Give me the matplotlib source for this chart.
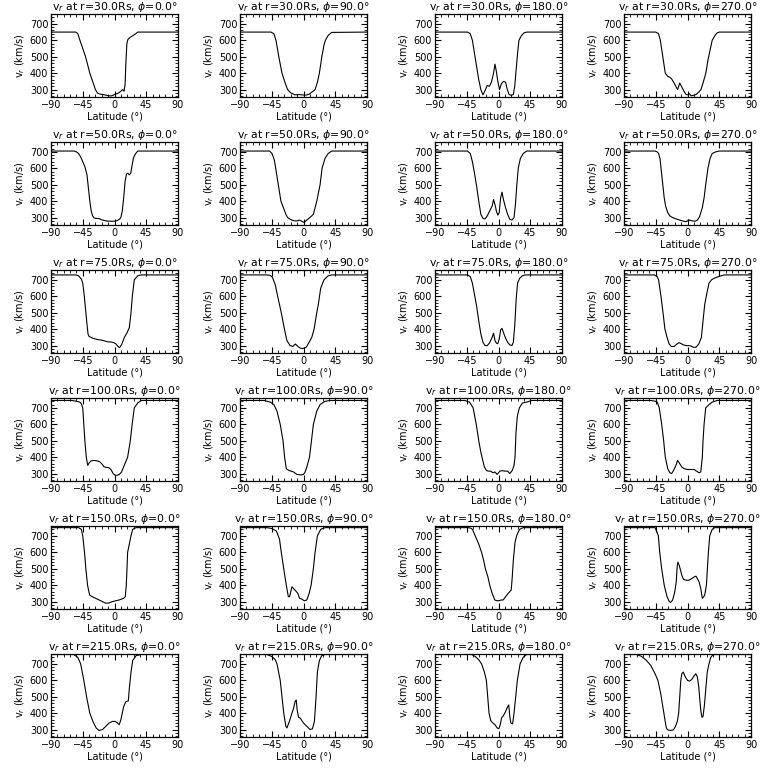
import matplotlib
matplotlib.use("Agg")
import matplotlib.pyplot as plt
from matplotlib.ticker import MultipleLocator

radii = [30.0, 50.0, 75.0, 100.0, 150.0, 215.0]
phis = [0.0, 90.0, 180.0, 270.0]
x_ticks = [-90, -45, 0, 45, 90]
y_ticks = [300, 400, 500, 600, 700]

# ---- r = 30 Rs ----
lat_30_0 = [-90,-55,-52,-49,-45,-41,-38,-35,-31,-27,-24,-20,-16,-12,-8,-4,0,3,6,9,11.5,13.5,15,16,17.5,19,22,26,30,33,90]
v_30_0 = [650,650,640,600,550,500,450,400,350,300,278,272,270,266,262,262,270,275,280,290,300,290,330,450,580,605,618,628,640,650,650]
lat_30_90 = [-90,-46,-42,-39,-35,-30.5,-26,-22.5,-18,-12,-6,-2,3,8,12,16.5,20,22.5,26,29,31,35,40,90]
v_30_90 = [650,650,640,600,500,400,340,300,280,268,270,268,266,272,285,300,350,400,500,570,600,630,648,650]
lat_30_180 = [-90,-44,-40,-37,-34,-31,-28,-25,-22,-19,-16,-13,-10,-7,-5,-3,-1,1.5,4,7,10,12.5,15,18,21,23,25,27,29,32,36,40,90]
v_30_180 = [650,650,640,600,520,440,360,300,268,295,325,320,345,400,455,410,350,300,335,350,345,300,270,265,270,320,420,520,600,625,645,650,650]
lat_30_270 = [-90,-45,-41,-38.5,-35,-31.5,-28,-25,-22.5,-19,-16,-14,-11,-8,-5,-2,1,3,5,8,12,16,19,22,26,29,32,35,39,42,45,90]
v_30_270 = [650,650,640,600,500,400,380,375,365,340,315,300,340,315,290,270,268,275,262,265,270,285,300,340,400,480,540,600,630,645,650,650]

# ---- r = 50 Rs ----
lat_50_0 = [-90,-57,-54,-51,-48,-45,-42,-39,-37,-35,-33,-31,-29,-26,-22,-17,-12,-6,0,4,7,9,11,13,15,17,19,21,23,25,27,30,33,90]
v_50_0 = [705,705,700,690,670,640,610,560,480,400,340,310,298,295,294,285,280,278,278,282,290,300,340,420,520,565,570,560,570,620,665,690,705,705]
lat_50_90 = [-90,-48,-44.6,-41.3,-39.4,-35.7,-32,-28,-25,-22.5,-19,-16,-12,-9,-6,-2.5,1,4.5,9,14,18.8,23.5,26.3,30.5,35,40,90]
v_50_90 = [705,705,690,650,600,500,400,355,320,300,290,284,280,280,285,278,270,285,300,320,400,500,600,660,690,705,705]
lat_50_180 = [-90,-44,-40,-37,-34,-31,-28,-25,-22,-19,-16,-12,-9,-7,-5,-3,-1,1,3,5,7,10,13,16,19,22,24,26,28,31,35,40,90]
v_50_180 = [705,705,690,640,570,490,400,320,295,292,310,345,370,410,380,340,315,330,420,455,410,360,320,290,285,300,380,500,600,660,690,705,705]
lat_50_270 = [-90,-46,-43,-41,-39,-37.5,-35,-33,-31,-28,-25,-21,-16,-11,-7,-3,0,1.5,4,7,11,14,17,21,23.5,25.8,29,32,35,40,45,90]
v_50_270 = [705,705,700,690,660,600,500,420,370,330,310,300,292,285,280,275,280,287,283,280,278,285,305,360,420,500,600,660,690,700,705,705]

# ---- r = 75 Rs ----
lat_75_0 = [-90,-55,-51,-47,-45,-43,-41,-39,-37.5,-36,-34,-31,-27,-23,-19,-15,-10,-5,-1,2,5,7,10,14,18,21,23.4,25.3,28,33,38,90]
v_75_0 = [730,730,725,705,680,610,520,430,370,355,352,345,340,336,334,330,323,322,318,310,295,287,305,350,380,410,500,600,700,725,730,730]
lat_75_90 = [-90,-52,-47,-44,-40,-36.6,-31.5,-27,-23.5,-19,-15,-11.7,-8,-4.7,-1,3.8,8,11.7,15,18.8,21,24.4,29,35,40,90]
v_75_90 = [730,730,727,715,670,600,500,400,330,300,295,310,295,285,282,290,320,350,400,500,550,650,700,725,730,730]
lat_75_180 = [-90,-44,-40,-37,-34,-31,-28,-25,-22,-19,-16,-13,-10,-7,-5,-3,-1,1,3,5,7,10,13,16,19,21,23,25,27,30,34,38,90]
v_75_180 = [730,730,720,680,610,540,450,370,320,300,300,315,340,375,330,315,312,340,395,405,380,345,320,305,300,320,420,580,680,710,725,730,730]
lat_75_270 = [-90,-47,-43,-41,-37.6,-34.7,-32,-29,-26,-23,-19,-15,-12,-9,-6,-2,2,5,8,12,16,19.7,22,24.4,27,30.5,34,38,44,52,90]
v_75_270 = [730,730,720,700,600,500,400,350,310,295,295,310,318,312,305,300,300,298,290,290,310,350,450,550,610,680,700,710,720,730,730]

# ---- r = 100 Rs ----
lat_100_0 = [-90,-60,-54,-49,-47,-45,-43.5,-42,-40,-38,-36,-33,-29,-25,-21,-18,-15,-12,-8,-5,-2,1,4,7,10,13.8,18.6,22.4,25,28,33,38,90]
v_100_0 = [745,745,740,735,725,700,600,500,400,350,365,378,380,378,372,360,342,338,336,325,300,290,290,295,310,350,400,500,600,700,730,745,745]
lat_100_90 = [-90,-56,-47,-42,-37.6,-33,-29,-26.8,-24.4,-21,-17.8,-14,-9.4,-3.3,0,2.3,4.7,8.5,11.3,14,18.8,23.5,30.5,38,90]
v_100_90 = [745,745,735,720,680,600,500,400,330,320,315,310,295,292,295,310,340,400,500,600,680,720,740,745,745]
lat_100_180 = [-90,-48,-41,-36,-31.5,-28,-25,-23.4,-20,-17,-14,-11,-8,-5,-2,2,5,9,13,16,19.6,22,23.4,24.8,26.7,29.6,34,40,47,90]
v_100_180 = [745,745,735,700,600,500,430,400,340,318,315,315,305,310,295,315,318,315,315,300,320,350,400,550,650,700,730,735,745,745]
lat_100_270 = [-90,-52,-45,-43,-40,-36.6,-33.8,-31.5,-28,-25,-22.5,-19.7,-16.4,-14,-11,-8,-4.7,0,4.7,9.4,12.7,16.4,18.8,21,22,23.5,25.8,30.5,35,42,90]
v_100_270 = [745,745,740,735,700,600,500,400,330,305,300,320,350,380,360,340,330,325,325,325,315,305,310,400,500,600,700,720,735,745,745]

# ---- r = 150 Rs ----
lat_150_0 = [-90,-51,-47,-45,-42.5,-40.6,-38.2,-35.3,-31.5,-26.7,-22,-17,-12.4,-7.6,-3,2,6.7,13,15.3,16.7,17.7,18.6,21,23.4,25.8,30.6,90]
v_150_0 = [750,750,740,700,600,500,400,340,330,320,310,300,290,292,300,305,310,320,330,400,500,600,650,700,740,750,750]
lat_150_90 = [-90,-52,-45,-38.5,-34,-31.5,-28,-24.4,-21.5,-19.7,-16.4,-12,-8,-5.6,-2.3,1,4.7,8,10.8,14,16.4,19.7,24.4,30.5,90]
v_150_90 = [750,750,745,730,680,600,500,400,330,330,390,370,350,320,315,305,310,350,400,500,600,700,740,750,750]
lat_150_180 = [-90,-44,-40,-37,-33,-28,-24,-21,-18.6,-15,-12.4,-9,-5.3,-2,1,4,6.7,10,13.8,18,19.5,21,23.4,26,30,35,90]
v_150_180 = [750,750,748,740,700,650,600,550,500,450,400,350,310,305,306,310,310,330,350,370,450,550,660,705,740,750,750]
lat_150_270 = [-90,-46,-43,-41.3,-39.4,-36.6,-33,-29,-25.8,-24,-21,-18,-16,-14.5,-13.5,-11.7,-8,-5.6,-2,2,6,9.4,12,14,16.4,18.8,21,23,24.4,26.8,28.2,29.6,31.5,35,38.5,90]
v_150_270 = [750,750,720,700,600,500,400,330,300,295,310,360,420,520,540,520,460,435,430,430,440,450,455,440,420,380,320,330,340,400,500,600,700,740,750,750]

# ---- r = 215 Rs ----
lat_215_0 = [-90,-58,-52,-48,-43.5,-39.6,-35,-30.6,-26,-22,-17,-12.4,-7.6,-3,1,4.3,6.7,9,13,16,19.6,21,23.4,25.8,30.6,38,90]
v_215_0 = [757,757,740,700,600,500,400,350,310,295,300,320,340,350,350,340,330,360,440,470,475,550,650,720,750,757,757]
lat_215_90 = [-90,-52,-45,-40,-37.6,-33,-30.5,-28,-25,-23.5,-20,-16.4,-14,-12,-10.3,-9,-7,-4.7,0,4.7,9.4,12.7,15.5,17.8,19.7,22.5,25.8,30.5,90]
v_215_90 = [757,757,745,725,700,600,500,400,320,310,350,400,430,470,480,420,375,370,340,320,300,305,350,500,650,720,750,757,757]
lat_215_180 = [-90,-38,-33,-28,-24,-20,-17.2,-15.3,-13.4,-11,-8,-5,-2,0.5,2.5,4.3,7,10,13,14.5,16,17.5,20,22,24.4,26.7,30.6,35,40,90]
v_215_180 = [757,757,745,725,700,650,600,500,400,355,340,330,310,305,330,370,385,410,440,450,380,340,335,400,500,600,700,740,757,757]
lat_215_270 = [-90,-72,-65,-58,-52,-46,-42,-38,-35,-32,-30,-28,-24,-20,-17,-14.5,-12.5,-11,-9.5,-8,-6,-3,0,3,6,9,11.7,14,16,17.5,19,20.5,22,24,26,28,30.5,33,36,40,90]
v_215_270 = [757,757,745,720,690,640,600,520,440,360,310,298,295,298,320,350,400,500,600,640,650,620,600,595,605,625,640,620,560,480,410,375,380,450,550,650,700,740,755,757,757]

curves = {
    (30.0, 0.0): (lat_30_0, v_30_0), (30.0, 90.0): (lat_30_90, v_30_90),
    (30.0, 180.0): (lat_30_180, v_30_180), (30.0, 270.0): (lat_30_270, v_30_270),
    (50.0, 0.0): (lat_50_0, v_50_0), (50.0, 90.0): (lat_50_90, v_50_90),
    (50.0, 180.0): (lat_50_180, v_50_180), (50.0, 270.0): (lat_50_270, v_50_270),
    (75.0, 0.0): (lat_75_0, v_75_0), (75.0, 90.0): (lat_75_90, v_75_90),
    (75.0, 180.0): (lat_75_180, v_75_180), (75.0, 270.0): (lat_75_270, v_75_270),
    (100.0, 0.0): (lat_100_0, v_100_0), (100.0, 90.0): (lat_100_90, v_100_90),
    (100.0, 180.0): (lat_100_180, v_100_180), (100.0, 270.0): (lat_100_270, v_100_270),
    (150.0, 0.0): (lat_150_0, v_150_0), (150.0, 90.0): (lat_150_90, v_150_90),
    (150.0, 180.0): (lat_150_180, v_150_180), (150.0, 270.0): (lat_150_270, v_150_270),
    (215.0, 0.0): (lat_215_0, v_215_0), (215.0, 90.0): (lat_215_90, v_215_90),
    (215.0, 180.0): (lat_215_180, v_215_180), (215.0, 270.0): (lat_215_270, v_215_270),
}

W = H = 768
fig = plt.figure(figsize=(7.68, 7.68), dpi=100)
col_left = [51, 240, 435, 624]
ax_w, ax_h = 127, 83

for i, r in enumerate(radii):
    for j, ph in enumerate(phis):
        top = 14 + 128 * i
        ax = fig.add_axes([col_left[j] / W, 1 - (top + ax_h) / H, ax_w / W, ax_h / H])
        lat, v = curves[(r, ph)]
        ax.plot(lat, v, color='black', lw=0.8)
        ax.set_xlim(-90, 90)
        ax.set_ylim(255, 760)
        ax.set_xticks(x_ticks)
        ax.set_yticks(y_ticks)
        ax.xaxis.set_minor_locator(MultipleLocator(9))
        ax.yaxis.set_minor_locator(MultipleLocator(20))
        ax.tick_params(which='both', direction='in', top=True, right=True, labelsize=7, pad=2)
        ax.tick_params(which='major', length=4, width=0.8)
        ax.tick_params(which='minor', length=2, width=0.6)
        for s in ax.spines.values():
            s.set_linewidth(0.9)
        ax.set_title(f"v$_r$ at r={r:.1f}Rs, $\\phi$={ph:.1f}°", fontsize=7.8, pad=2)
        ax.set_xlabel("Latitude (°)", fontsize=7, labelpad=1)
        ax.set_ylabel("v$_r$ (km/s)", fontsize=7, labelpad=2)

fig.savefig("out.png", dpi=100)
